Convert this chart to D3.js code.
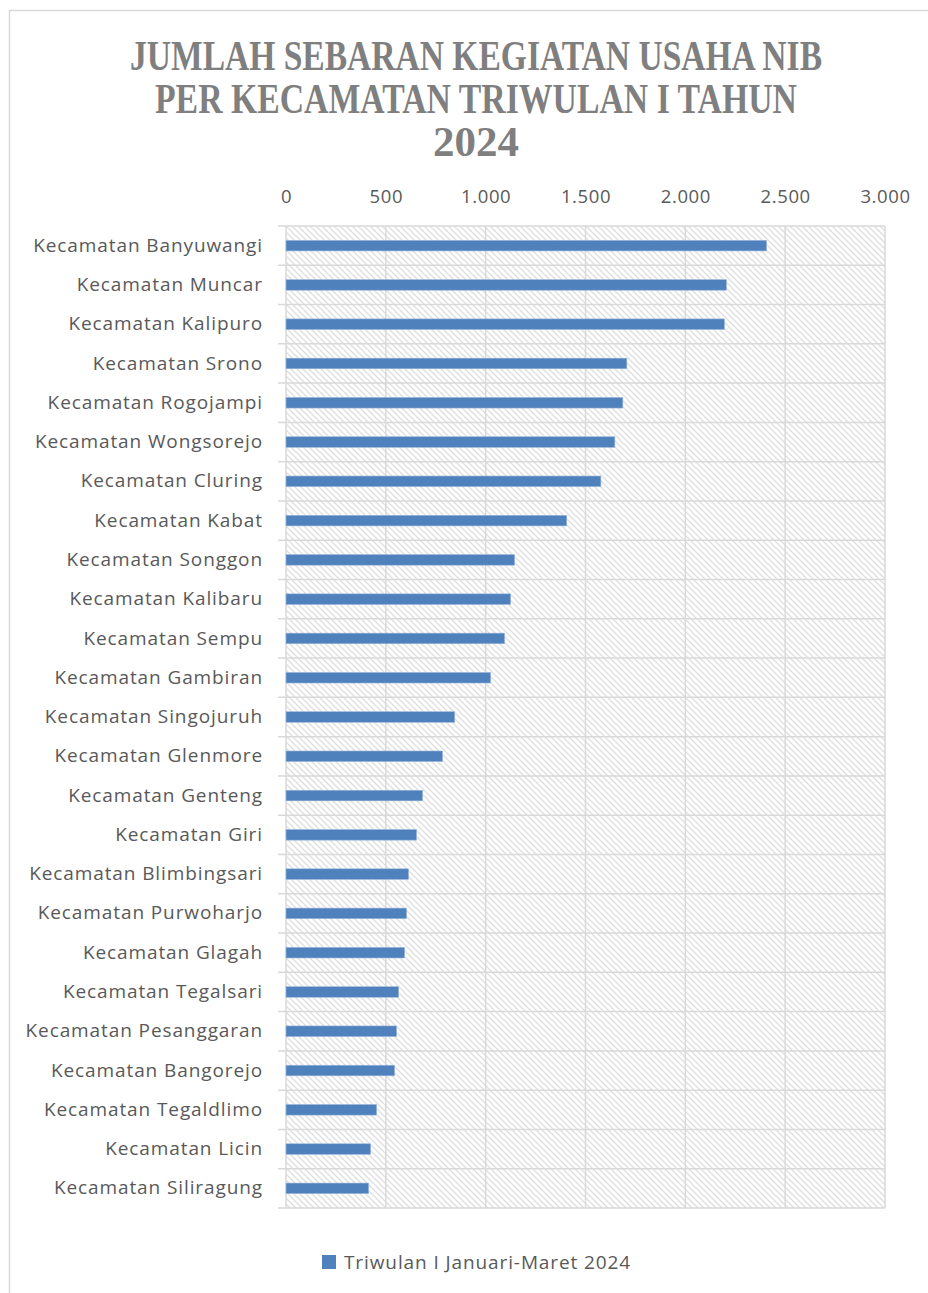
<!DOCTYPE html>
<html>
<head>
<meta charset="utf-8">
<script src="https://cdn.jsdelivr.net/npm/d3@7"></script>
<style>
  body { margin: 0; background: #fff; }
  svg { display: block; }
</style>
</head>
<body>
<svg id="chart"></svg>
<script>
// data
const kecamatan = [
  "Kecamatan Banyuwangi", "Kecamatan Muncar", "Kecamatan Kalipuro", "Kecamatan Srono",
  "Kecamatan Rogojampi", "Kecamatan Wongsorejo", "Kecamatan Cluring", "Kecamatan Kabat",
  "Kecamatan Songgon", "Kecamatan Kalibaru", "Kecamatan Sempu", "Kecamatan Gambiran",
  "Kecamatan Singojuruh", "Kecamatan Glenmore", "Kecamatan Genteng", "Kecamatan Giri",
  "Kecamatan Blimbingsari", "Kecamatan Purwoharjo", "Kecamatan Glagah", "Kecamatan Tegalsari",
  "Kecamatan Pesanggaran", "Kecamatan Bangorejo", "Kecamatan Tegaldlimo", "Kecamatan Licin",
  "Kecamatan Siliragung"
];
const jumlahNIB = [
  2407, 2206, 2196, 1707, 1687, 1647, 1577, 1406, 1145, 1125, 1095, 1025,
  845, 784, 684, 654, 614, 604, 594, 564, 554, 544, 454, 424, 414
];
const xTicks = [0, 500, 1000, 1500, 2000, 2500, 3000];
const titleLines = ["JUMLAH SEBARAN KEGIATAN USAHA NIB", "PER KECAMATAN TRIWULAN I TAHUN", "2024"];
const titleWidths = [692, 642, 86];
const seriesName = "Triwulan I Januari-Maret 2024";

const W = 928, H = 1293;
const margin = { top: 226, left: 286, right: 43, bottom: 85 };
const width = W - margin.left - margin.right;
const height = H - margin.top - margin.bottom;

const svg = d3.select("#chart").attr("width", W).attr("height", H);

// hatch fill for the plot area
const defs = svg.append("defs");
const pat = defs.append("pattern")
    .attr("id", "hatch")
    .attr("patternUnits", "userSpaceOnUse")
    .attr("width", 6).attr("height", 6);
pat.append("rect").attr("width", 6).attr("height", 6).attr("fill", "#fff");
pat.append("path")
    .attr("d", "M0,0 L6,6 M-3,3 L3,9 M3,-3 L9,3")
    .attr("stroke", "#dedede")
    .attr("stroke-width", 1.3);

// chart frame
svg.append("rect")
    .attr("x", 9.5).attr("y", 10.5)
    .attr("width", W + 20).attr("height", H + 20)
    .attr("fill", "none")
    .attr("stroke", "#d9d9d9")
    .attr("stroke-width", 1.5);

// title
svg.append("g").selectAll("text")
  .data(titleLines)
  .join("text")
    .attr("x", 476)
    .attr("y", (d, i) => 70 + i * 43)
    .attr("text-anchor", "middle")
    .attr("textLength", (d, i) => titleWidths[i])
    .attr("lengthAdjust", "spacingAndGlyphs")
    .style("font-family", "'Liberation Serif', serif")
    .style("font-weight", "bold")
    .style("font-size", "42px")
    .style("fill", "#7f7f7f")
    .text(d => d);

const chart = svg.append("g")
    .attr("transform", `translate(${margin.left},${margin.top})`);

const x = d3.scaleLinear().domain([0, 3000]).range([0, width]);
const rows = d3.scaleBand().domain(kecamatan).range([0, height]).padding(0);
const y = d3.scaleBand().domain(kecamatan).range([0, height])
    .paddingInner(0.73).paddingOuter(0.365);

chart.append("rect")
    .attr("width", width).attr("height", height)
    .attr("fill", "url(#hatch)");

// vertical grid
chart.append("g")
  .selectAll("line")
  .data(xTicks)
  .join("line")
    .attr("x1", d => x(d)).attr("x2", d => x(d))
    .attr("y1", 0).attr("y2", height)
    .attr("stroke", "#d9d9d9").attr("stroke-width", 1.5);

// horizontal row lines with tick marks on the left
const rowEdges = kecamatan.map(d => rows(d)).concat([height]);
chart.append("g")
  .selectAll("line")
  .data(rowEdges)
  .join("line")
    .attr("x1", -8).attr("x2", width)
    .attr("y1", d => d).attr("y2", d => d)
    .attr("stroke", "#d9d9d9").attr("stroke-width", 1.5);

// bars
chart.append("g")
  .selectAll("rect")
  .data(jumlahNIB)
  .join("rect")
    .attr("x", x(0))
    .attr("y", (d, i) => y(kecamatan[i]))
    .attr("width", d => x(d) - x(0))
    .attr("height", y.bandwidth())
    .attr("fill", "#4f81bd")
    .attr("stroke", "#9db7da")
    .attr("stroke-width", 0.6);

const labelFont = "'Open Sans', sans-serif";

// top axis labels
const xAxis = d3.axisTop(x).tickValues(xTicks).tickSize(0).tickPadding(23)
    .tickFormat(d => d3.format(",")(d).replace(/,/g, "."));
chart.append("g")
  .call(xAxis)
  .call(g => g.select(".domain").remove())
  .call(g => g.selectAll("text")
      .style("font-family", labelFont)
      .style("font-size", "18.5px")
      .style("letter-spacing", "0.6px")
      .style("fill", "#595959"));

// category labels
const yAxis = d3.axisLeft(rows).tickSize(0).tickPadding(23);
chart.append("g")
  .call(yAxis)
  .call(g => g.select(".domain").remove())
  .call(g => g.selectAll("text")
      .style("font-family", labelFont)
      .style("font-size", "19px")
      .style("letter-spacing", "0.9px")
      .style("fill", "#595959"));

// legend
const legend = svg.append("g").attr("transform", "translate(322,1255)");
legend.append("rect").attr("width", 14).attr("height", 14).attr("fill", "#4f81bd");
legend.append("text")
    .attr("x", 22).attr("y", 14)
    .style("font-family", labelFont)
    .style("font-size", "19px")
    .style("letter-spacing", "0.9px")
    .style("fill", "#595959")
    .text(seriesName);
</script>
</body>
</html>
